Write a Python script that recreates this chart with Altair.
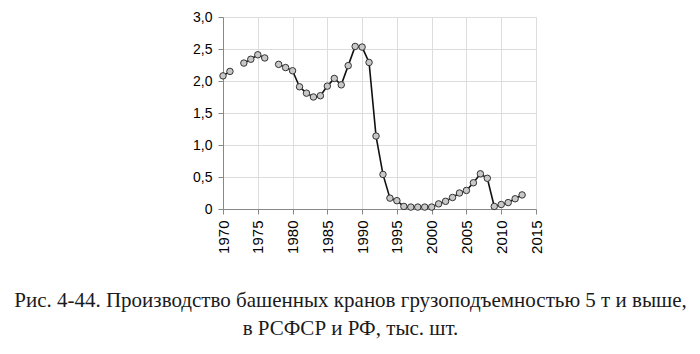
import altair as alt
import pandas as pd

years = [1970, 1971, 1973, 1974, 1975, 1976, 1978, 1979, 1980, 1981, 1982, 1983,
         1984, 1985, 1986, 1987, 1988, 1989, 1990, 1991, 1992, 1993, 1994, 1995,
         1996, 1997, 1998, 1999, 2000, 2001, 2002, 2003, 2004, 2005, 2006, 2007,
         2008, 2009, 2010, 2011, 2012, 2013]
values = [2.08, 2.15, 2.28, 2.34, 2.41, 2.36, 2.26, 2.21, 2.16, 1.91, 1.81, 1.75,
          1.77, 1.92, 2.04, 1.94, 2.24, 2.54, 2.53, 2.29, 1.14, 0.54, 0.17, 0.13,
          0.04, 0.03, 0.03, 0.03, 0.03, 0.08, 0.12, 0.18, 0.25, 0.29, 0.41, 0.55,
          0.48, 0.04, 0.07, 0.10, 0.16, 0.22]
caption = ["Рис. 4-44. Производство башенных кранов грузоподъемностью 5 т и выше,",
           "в РСФСР и РФ, тыс. шт."]

# segments: the line breaks where a year is missing
seg = []
s = 0
for i, y in enumerate(years):
    if i > 0 and y - years[i - 1] > 1:
        s += 1
    seg.append(s)

df = pd.DataFrame({"year": years, "value": values, "seg": seg})

x = alt.X("year:Q", scale=alt.Scale(domain=[1970, 2015], nice=False, zero=False),
          axis=alt.Axis(values=list(range(1970, 2016, 5)), format="d", labelAngle=-90,
                        title=None, labelFontSize=15, labelPadding=6))
y = alt.Y("value:Q", scale=alt.Scale(domain=[0, 3], nice=False),
          axis=alt.Axis(values=[0, 0.5, 1, 1.5, 2, 2.5, 3], title=None,
                        labelExpr="datum.value == 0 ? '0' : replace(format(datum.value, '.1f'), '.', ',')",
                        labelFontSize=14, labelPadding=6))

line = alt.Chart(df).mark_line(color="#111111", strokeWidth=1.6).encode(
    x=x, y=y, detail="seg:N")
pts = alt.Chart(df).mark_point(filled=True, fill="#c8c8c8", stroke="#333333",
                               strokeWidth=1, size=42, opacity=1).encode(x=x, y=y)

chart = (line + pts).properties(
    width=313, height=192,
    autosize=alt.AutoSizeParams(type="none"),
    padding={"left": 223, "top": 17, "right": 164, "bottom": 145},
    title=alt.TitleParams(caption, orient="bottom", anchor="middle", frame="group",
                          dx=-29, offset=37, font="Liberation Serif", fontSize=21,
                          fontWeight="normal", color="#1a1a1a", lineHeight=28),
).configure_view(strokeWidth=0).configure_axis(
    domainColor="#111111", domainWidth=2, tickColor="#111111", tickWidth=1.5,
    tickSize=5, gridColor="#c4c4c4", gridWidth=1, labelColor="#333333",
    labelFont="Liberation Sans",
).configure(background="white")

chart.save("out.html", embed_options={"renderer": "svg", "actions": False})
